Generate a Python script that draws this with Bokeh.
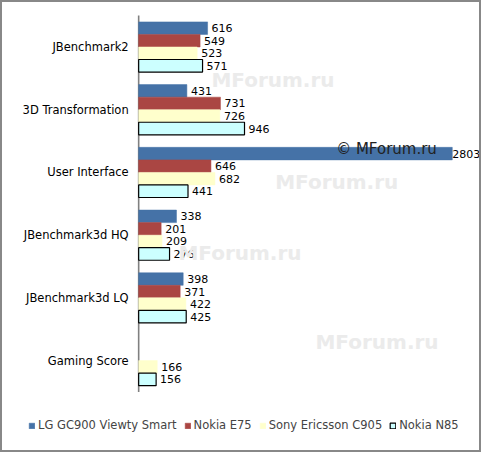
from bokeh.plotting import figure
from bokeh.models import ColumnDataSource, Label, Legend, LegendItem
from bokeh.transform import dodge
from bokeh.core.properties import value
from bokeh.embed import file_html
from bokeh.resources import INLINE

nan = float("nan")

# data
categories = ["JBenchmark2", "3D Transformation", "User Interface",
              "JBenchmark3d HQ", "JBenchmark3d LQ", "Gaming Score"]
series = ["LG GC900 Viewty Smart", "Nokia E75", "Sony Ericsson C905", "Nokia N85"]
lg_gc900 = [616, 431, 2803, 338, 398, nan]
nokia_e75 = [549, 731, 646, 201, 371, nan]
sony_c905 = [523, 726, 682, 209, 422, 166]
nokia_n85 = [571, 946, 441, 276, 425, 156]

colors = ["#4572A7", "#AA4643", "#FFFFCC", "#CCFFFF"]
borders = [None, None, None, "black"]
offsets = [0.3, 0.1, -0.1, -0.3]
FONT = "DejaVu Sans"

n = len(categories)
cat_pos = [n - 0.5 - i for i in range(n)]  # first category on top

# the frame fills the whole canvas so the legend under the bars is not clipped
p = figure(width=481, height=452, output_backend="svg", toolbar_location=None,
           x_range=(-1217, 3082), y_range=(-0.997, 6.209), min_border=0)
p.styles = {"border": "2px solid #888888"}
p.axis.visible = False
p.grid.visible = False
p.outline_line_color = None

# watermarks
for wx, wy in [(650, 4.97), (1220, 3.35), (355, 2.22), (1580, 0.79)]:
    p.add_layout(Label(x=wx, y=wy, text="MForum.ru", text_font=FONT,
                       text_font_style="bold", text_font_size="20px",
                       text_color="#EBEBEB", text_baseline="middle"))

# category axis: line and labels
p.segment(x0=0, y0=0, x1=0, y1=n, line_color="#808080", line_width=1.6)
cat_src = ColumnDataSource(data=dict(y=cat_pos, name=categories, x=[0] * n))
p.text(x="x", y="y", text="name", source=cat_src, x_offset=-10,
       text_align="right", text_baseline="middle", text_font=value(FONT),
       text_font_size="11.5px", text_color="black")

renderers = []
all_vals = lg_gc900 + nokia_e75 + sony_c905 + nokia_n85
top = max(v for v in all_vals if v == v)
for name, vals, col, bc, off in zip(series, [lg_gc900, nokia_e75, sony_c905, nokia_n85],
                                    colors, borders, offsets):
    src = ColumnDataSource(data=dict(
        y=cat_pos, val=vals,
        lab=["" if v != v else str(int(v)) for v in vals],
        xoff=[0 if v == top else 4 for v in vals]))
    r = p.hbar(y=dodge("y", off), right="val", left=0,
               height=0.2, source=src, fill_color=col,
               line_color=bc if bc else col, line_width=1.2 if bc else 0.5)
    renderers.append(r)
    p.text(x="val", y=dodge("y", off), text="lab", source=src,
           x_offset="xoff", text_baseline="middle", text_align="left",
           text_font=value(FONT), text_font_size="11px", text_color="black")

p.add_layout(Label(x=1765, y=3.88, text="\u00a9 MForum.ru", text_font=FONT,
                   text_font_size="15px", text_color="#222222",
                   text_baseline="middle"))

legend = Legend(items=[LegendItem(label=s, renderers=[r]) for s, r in zip(series, renderers)],
                orientation="horizontal", location=(26, 22),
                glyph_width=7, glyph_height=7, label_standoff=3, spacing=7,
                padding=0, margin=0, border_line_color=None,
                background_fill_alpha=0,
                label_text_font=FONT, label_text_font_size="11.5px",
                label_height=12)
p.add_layout(legend, "center")

open("out.html", "w").write(file_html(p, INLINE))
